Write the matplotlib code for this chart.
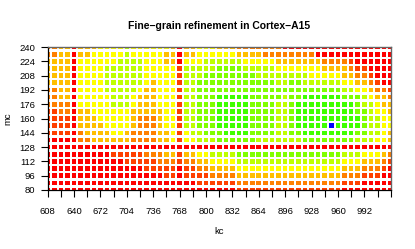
import numpy as np
import matplotlib.pyplot as plt
from matplotlib.colors import hsv_to_rgb

plt.rcParams['font.family'] = ['Liberation Sans', 'DejaVu Sans']

kc = np.arange(608, 1025, 8)   # 53 columns
mc = np.arange(80, 241, 8)     # 21 rows

# colour level per cell: 0 = red ... 8 = green, B = best point (blue)
# rows listed from mc=240 down to mc=80
levels = [
    "2233" "0" "333444454444443" "0" "3344433322222220" "0000000000000000",
    "2233" "0" "334444454444433" "0" "3344444433332222" "2222000000000000",
    "3333" "0" "444444555544433" "0" "4445555554444433" "3333322221000000",
    "3333" "0" "444455555544444" "1" "5555566665555544" "4444433332110000",
    "3333" "0" "444455555544444" "1" "5556666666655555" "5554444433221000",
    "3333" "0" "444455555543444" "1" "5566666666666655" "6655555544332100",
    "2233" "0" "444455555433444" "1" "5566666666666666" "6666666655443221",
    "2233" "0" "444445554333444" "1" "5566677777666665" "6677777766654332",
    "2222" "0" "444445554333444" "1" "5566677777666655" "6777777777655433",
    "1122" "0" "334444443333344" "1" "5566677777666655" "6777777777665443",
    "1111" "0" "333444443222344" "1" "5566677777666655" "6777777777765544",
    "1111" "0" "333344443222344" "1" "5566677777666655" "677777B777765544",
    "1111" "0" "233334432222334" "1" "4556667777666655" "6677777777665543",
    "0000" "0" "223333332222334" "1" "4455566666655555" "5566666666555443",
    "0000" "0" "000000000000000" "0" "0000000000000000" "0000000000000000",
    "0000" "0" "000001111122233" "1" "3344555566666666" "6666666655544432",
    "0000" "0" "000000011111222" "1" "2233444455555555" "5555555544433321",
    "0000" "0" "000000000011111" "0" "1122333344444444" "4444444433322210",
    "0000" "0" "000000000000011" "0" "1111222233333333" "3333333322211100",
    "0000" "0" "000000000000000" "0" "0011111122222222" "2222222211100000",
    "0000" "0" "000000000000000" "0" "0000000011111111" "1111111100000000",
]

fig = plt.figure(figsize=(4.15, 2.49), dpi=100)
ax = fig.add_axes([0.115, 0.237, 0.8265, 0.574])

xs, ys, cols = [], [], []
for r, row in enumerate(levels):
    m = mc[len(mc) - 1 - r]
    for c, ch in enumerate(row):
        xs.append(kc[c])
        ys.append(m)
        if ch == 'B':
            cols.append((0.0, 0.0, 1.0))
        else:
            h = int(ch) / 8 * (1 / 3)
            cols.append(hsv_to_rgb((h, 1.0, 1.0)))

ax.scatter(xs, ys, c=cols, marker='s', s=11, linewidths=0)

ax.set_xlim(608, 1024)
ax.set_ylim(80, 240)
ax.set_xticks(np.arange(608, 1025, 16))
ax.set_xticklabels([str(v) if (v - 608) % 32 == 0 and v < 1024 else '' for v in range(608, 1025, 16)])
ax.set_yticks(np.arange(80, 241, 16))
ax.tick_params(labelsize=6.8, length=5, width=0.8, pad=7)
ax.tick_params(axis='y', pad=4)
for s in ['left', 'bottom']:
    ax.spines[s].set_linewidth(0.9)
for s in ['top', 'right']:
    ax.spines[s].set_color('#666666')
    ax.spines[s].set_linewidth(1.0)

ax.set_xlabel('kc', fontsize=6.8, labelpad=8)
ax.set_ylabel('mc', fontsize=6.8, labelpad=5)
ax.set_title('Fine\u2212grain refinement in Cortex\u2212A15', fontsize=7.5,
             fontweight='bold', pad=13)

fig.savefig('out.png', dpi=100)
